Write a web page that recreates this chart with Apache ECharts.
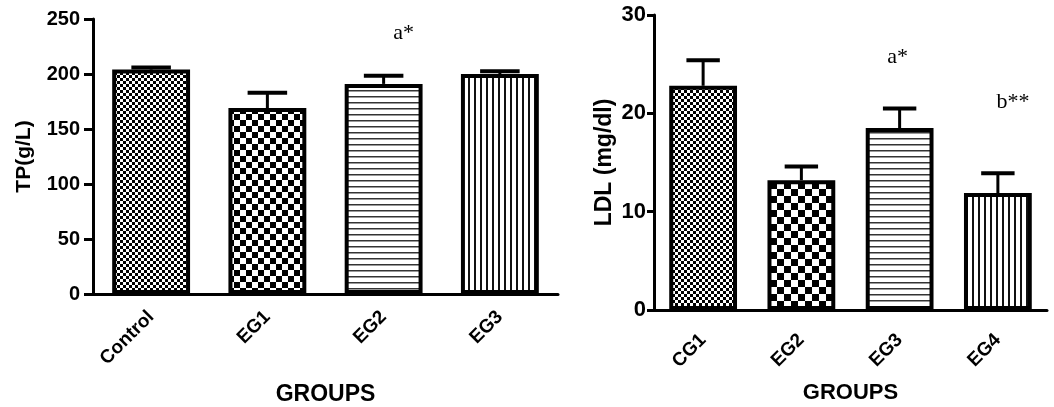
<!DOCTYPE html>
<html>
<head>
<meta charset="utf-8">
<script src="https://cdn.jsdelivr.net/npm/echarts@6/dist/echarts.min.js"></script>
<style>
  html, body { margin: 0; padding: 0; background: #fff; }
  #chart { width: 1054px; height: 407px; }
</style>
</head>
<body>
<div id="chart"></div>
<script>
// Left panel: total protein
const tpGroups = ["Control", "EG1", "EG2", "EG3"];
const tpMeans = [204, 169, 191, 200];
const tpErrors = [2, 14, 7.5, 2.5];
const tpMarks = ["", "", "a*", ""];
const tpMarkAt = [null, null, 237, null];

// Right panel: LDL
const ldlGroups = ["CG1", "EG2", "EG3", "EG4"];
const ldlMeans = [22.8, 13.2, 18.5, 11.9];
const ldlErrors = [2.6, 1.4, 2.0, 2.0];
const ldlMarks = ["", "", "a*", "b**"];
const ldlMarkAt = [null, null, 25.7, 21.1];

// small horizontal nudges for the significance letters (px)
const tpMarkShift = [0, 0, 20, 0];
const ldlMarkShift = [0, 0, -2, 15];

// hatch fills, one per bar position
function makePattern(kind, size) {
  const c = document.createElement("canvas");
  const ctx = c.getContext("2d");
  if (kind === "checker") {
    c.width = c.height = size * 2;
    ctx.fillStyle = "#fff";
    ctx.fillRect(0, 0, size * 2, size * 2);
    ctx.fillStyle = "#000";
    ctx.fillRect(0, 0, size, size);
    ctx.fillRect(size, size, size, size);
  } else if (kind === "hline") {
    c.width = 4; c.height = size;
    ctx.fillStyle = "#fff";
    ctx.fillRect(0, 0, 4, size);
    ctx.fillStyle = "#333";
    ctx.fillRect(0, 0, 4, 1.5);
  } else {
    c.width = size; c.height = 4;
    ctx.fillStyle = "#fff";
    ctx.fillRect(0, 0, size, 4);
    ctx.fillStyle = "#111";
    ctx.fillRect(0, 0, 2, 4);
  }
  return { image: c, repeat: "repeat" };
}

const tpFills = [makePattern("checker", 3), makePattern("checker", 6), makePattern("hline", 6), makePattern("vline", 6)];
const ldlFills = [makePattern("checker", 3), makePattern("checker", 7), makePattern("hline", 6), makePattern("vline", 6)];

function errorBars(means, errs, marks, markAt, shift) {
  return function (params, api) {
    const i = api.value(0);
    const base = api.coord([i, means[i]]);
    const top = api.coord([i, means[i] + errs[i]]);
    const half = api.size([1, 0])[0] * 0.17;
    const children = [
      { type: "line", shape: { x1: base[0], y1: base[1], x2: top[0], y2: top[1] }, style: { stroke: "#000", lineWidth: 3 } },
      { type: "line", shape: { x1: top[0] - half, y1: top[1], x2: top[0] + half, y2: top[1] }, style: { stroke: "#000", lineWidth: 4 } }
    ];
    if (marks[i]) {
      const p = api.coord([i, markAt[i]]);
      children.push({
        type: "text", x: p[0] + shift[i], y: p[1],
        style: { text: marks[i], font: '22px "Liberation Serif", "DejaVu Serif", serif', fill: "#000", align: "center", verticalAlign: "middle" }
      });
    }
    return { type: "group", children: children };
  };
}

const sans = '"Liberation Sans", Arial, sans-serif';
const narrow = '"Liberation Sans Narrow", "Liberation Sans", Arial, sans-serif';

function catAxis(gridIndex, data, fontSize, family, margin, nameGap, nameSize) {
  return {
    type: "category", gridIndex: gridIndex, data: data,
    axisLine: { lineStyle: { color: "#000", width: 3 } },
    axisTick: { alignWithLabel: true, length: 10, lineStyle: { color: "#000", width: 3 } },
    axisLabel: { rotate: 45, margin: margin, color: "#000", fontWeight: "bold", fontSize: fontSize, fontFamily: family },
    name: "GROUPS", nameLocation: "middle", nameGap: nameGap,
    nameTextStyle: { color: "#000", fontWeight: "bold", fontSize: nameSize, fontFamily: sans }
  };
}

function valAxis(gridIndex, max, interval, name, fontSize, family, margin, nameGap, nameSize, tickLen) {
  return {
    type: "value", gridIndex: gridIndex, min: 0, max: max, interval: interval,
    splitLine: { show: false },
    axisLine: { show: true, lineStyle: { color: "#000", width: 3 } },
    axisTick: { show: true, length: tickLen, lineStyle: { color: "#000", width: 3 } },
    axisLabel: { margin: margin, color: "#000", fontWeight: "bold", fontSize: fontSize, fontFamily: family },
    name: name, nameLocation: "middle", nameGap: nameGap,
    nameTextStyle: { color: "#000", fontWeight: "bold", fontSize: nameSize, fontFamily: sans }
  };
}

const chart = echarts.init(document.getElementById("chart"));
chart.setOption({
  animation: false,
  backgroundColor: "#fff",
  grid: [
    { left: 93, top: 19, width: 465, height: 275, outerBoundsMode: "none" },
    { left: 654, top: 15, width: 393, height: 295, outerBoundsMode: "none" }
  ],
  xAxis: [
    catAxis(0, tpGroups, 19, sans, 20, 89, 23),
    catAxis(1, ldlGroups, 19, sans, 27, 72, 22)
  ],
  yAxis: [
    valAxis(0, 250, 50, "TP(g/L)", 20, sans, 13, 58, 21, 9),
    valAxis(1, 30, 10, "LDL (mg/dl)", 22, narrow, 8, 38, 23, 7)
  ],
  series: [
    {
      type: "bar", xAxisIndex: 0, yAxisIndex: 0, barWidth: "67%",
      data: tpMeans.map((v, i) => ({ value: v, itemStyle: { color: tpFills[i] } })),
      itemStyle: { borderColor: "#000", borderWidth: 4 }
    },
    {
      type: "custom", xAxisIndex: 0, yAxisIndex: 0, z: 5,
      renderItem: errorBars(tpMeans, tpErrors, tpMarks, tpMarkAt, tpMarkShift),
      data: tpMeans.map((v, i) => [i, v + tpErrors[i]])
    },
    {
      type: "bar", xAxisIndex: 1, yAxisIndex: 1, barWidth: "69%",
      data: ldlMeans.map((v, i) => ({ value: v, itemStyle: { color: ldlFills[i] } })),
      itemStyle: { borderColor: "#000", borderWidth: 4 }
    },
    {
      type: "custom", xAxisIndex: 1, yAxisIndex: 1, z: 5,
      renderItem: errorBars(ldlMeans, ldlErrors, ldlMarks, ldlMarkAt, ldlMarkShift),
      data: ldlMeans.map((v, i) => [i, v + ldlErrors[i]])
    }
  ]
});
</script>
</body>
</html>
